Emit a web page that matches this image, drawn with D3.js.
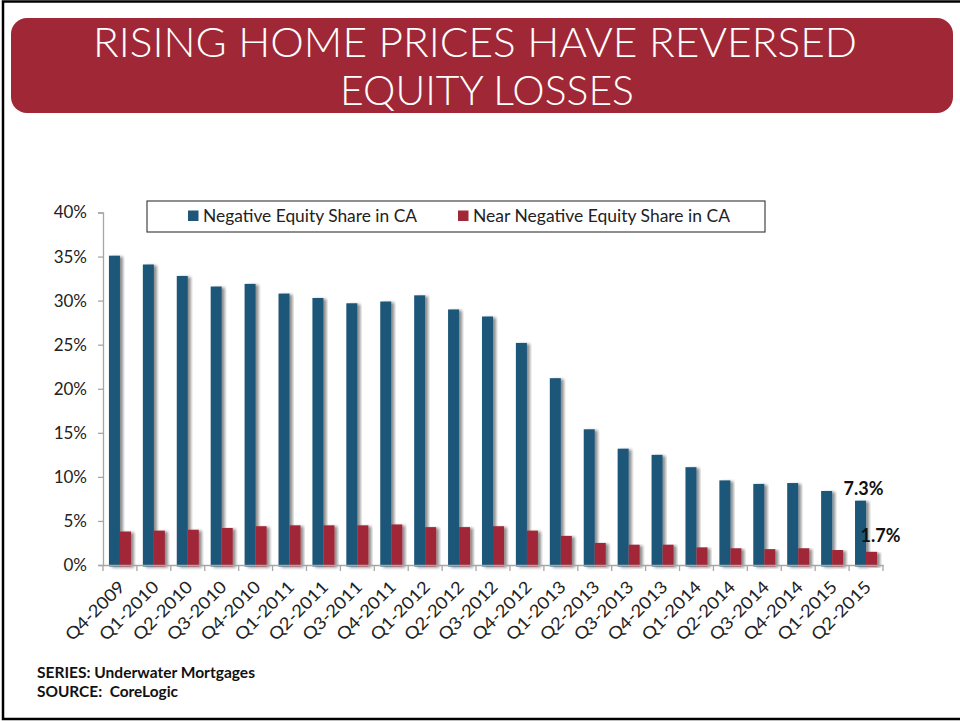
<!DOCTYPE html>
<html>
<head>
<meta charset="utf-8">
<script src="https://cdn.jsdelivr.net/npm/d3@7"></script>
<style>
  html, body { margin: 0; padding: 0; background: #fff; }
  svg { display: block; }
  text { white-space: pre; }
</style>
</head>
<body>
<svg id="chart" width="960" height="721"></svg>
<script>
// ---- Data ----
const categories = ["Q4-2009","Q1-2010","Q2-2010","Q3-2010","Q4-2010","Q1-2011","Q2-2011","Q3-2011","Q4-2011","Q1-2012","Q2-2012","Q3-2012","Q4-2012","Q1-2013","Q2-2013","Q3-2013","Q4-2013","Q1-2014","Q2-2014","Q3-2014","Q4-2014","Q1-2015","Q2-2015"];
const negativeEquity = [35.1,34.1,32.8,31.6,31.9,30.8,30.3,29.7,29.9,30.6,29.0,28.2,25.2,21.2,15.4,13.2,12.5,11.1,9.6,9.2,9.3,8.4,7.3];
const nearNegativeEquity = [3.8,3.9,4.0,4.2,4.4,4.5,4.5,4.5,4.6,4.3,4.3,4.4,3.9,3.3,2.5,2.3,2.3,2.0,1.9,1.8,1.9,1.7,1.5];
const seriesNames = ["Negative Equity Share in CA","Near Negative Equity Share in CA"];
const yTicks = [0,5,10,15,20,25,30,35,40];
const endLabels = ["7.3%","1.7%"];
const titleLines = ["RISING HOME PRICES HAVE REVERSED","EQUITY LOSSES"];
const footerLines = ["SERIES: Underwater Mortgages","SOURCE:  CoreLogic"];

const colors = ["#1f5679","#a02837"];
const font = "Lato, 'Open Sans', sans-serif";

const svg = d3.select("#chart");

// shadow filter
const defs = svg.append("defs");
const f = defs.append("filter").attr("id","shadow").attr("x","-20%").attr("y","-5%").attr("width","160%").attr("height","115%");
f.append("feGaussianBlur").attr("in","SourceAlpha").attr("stdDeviation",1.5).attr("result","b");
f.append("feOffset").attr("in","b").attr("dx",3).attr("dy",1).attr("result","o");
f.append("feComponentTransfer").attr("in","o").attr("result","o2")
  .append("feFuncA").attr("type","linear").attr("slope",0.45);
const m = f.append("feMerge");
m.append("feMergeNode").attr("in","o2");
m.append("feMergeNode").attr("in","SourceGraphic");

// slide frame
svg.append("rect").attr("x",3).attr("y",1.5).attr("width",990).attr("height",717.5)
  .attr("fill","none").attr("stroke","#000").attr("stroke-width",2.5);

// title banner
svg.append("rect").attr("x",11).attr("y",18).attr("width",942).attr("height",95)
  .attr("rx",16).attr("ry",16).attr("fill","#a02836");
svg.append("text").attr("x",475).attr("y",57).attr("text-anchor","middle")
  .attr("fill","#fff").attr("font-family",font).attr("font-weight",300).attr("font-size",41)
  .attr("textLength",764).attr("lengthAdjust","spacingAndGlyphs").text(titleLines[0]);
svg.append("text").attr("x",487).attr("y",105).attr("text-anchor","middle")
  .attr("fill","#fff").attr("font-family",font).attr("font-weight",300).attr("font-size",41)
  .attr("textLength",294).attr("lengthAdjust","spacingAndGlyphs").text(titleLines[1]);

// scales
const x0 = d3.scaleBand().domain(categories).range([103,883]).paddingInner(0).paddingOuter(0);
const groupPad = 0.175;
const x1 = d3.scaleBand().domain([0,1]).range([x0.bandwidth()*groupPad, x0.bandwidth()*(1-groupPad)]);
const y = d3.scaleLinear().domain([0,40]).range([565,212.5]);

// y axis
const yAxis = svg.append("g").attr("transform","translate(103,0)")
  .call(d3.axisLeft(y).tickValues(yTicks).tickSize(5).tickPadding(11).tickFormat(d => d + "%"));
yAxis.select(".domain").attr("stroke","#a6a6a6").attr("stroke-width",1.3);
yAxis.selectAll(".tick line").attr("stroke","#a6a6a6").attr("stroke-width",1.3);
yAxis.selectAll(".tick text").attr("font-family",font).attr("font-size",17).attr("fill","#222");

// bars
const data = categories.map((c,i) => ({c, v:[negativeEquity[i], nearNegativeEquity[i]]}));
const groups = svg.append("g").selectAll("g").data(data).join("g")
  .attr("transform", d => `translate(${x0(d.c)},0)`);
groups.selectAll("rect").data(d => d.v.map((v,k) => ({v,k}))).join("rect")
  .attr("x", d => x1(d.k))
  .attr("y", d => y(d.v))
  .attr("width", x1.bandwidth())
  .attr("height", d => y(0) - y(d.v) + 1.5)
  .attr("fill", d => colors[d.k])
  .attr("filter","url(#shadow)");

// x axis
const xAxis = svg.append("g").attr("transform","translate(0,565)")
  .call(d3.axisBottom(x0).tickSize(0).tickPadding(0));
xAxis.select(".domain").attr("stroke","#a6a6a6").attr("stroke-width",1.3);
// boundary ticks
const bounds = categories.map(c => x0(c)).concat([x0.range()[1]]);
svg.append("g").selectAll("line").data(bounds).join("line")
  .attr("x1", d => d).attr("x2", d => d).attr("y1",565).attr("y2",571)
  .attr("stroke","#a6a6a6").attr("stroke-width",1.3);
xAxis.selectAll(".tick text")
  .attr("font-family",font).attr("font-size",17).attr("fill","#222")
  .attr("text-anchor","end").attr("dy",0)
  .attr("textLength",76).attr("lengthAdjust","spacingAndGlyphs")
  .attr("transform","translate(6,23) rotate(-45)");

// end labels
const last = categories.length - 1;
svg.append("text").attr("x", x0(categories[last]) + x1(0) + x1.bandwidth()/2 + 3)
  .attr("y", y(negativeEquity[last]) - 6).attr("text-anchor","middle")
  .attr("font-family",font).attr("font-weight",700).attr("font-size",18).attr("fill","#111")
  .text(endLabels[0]);
svg.append("text").attr("x", x0(categories[last]) + x1(1) + x1.bandwidth()/2 + 9)
  .attr("y", y(nearNegativeEquity[last]) - 10).attr("text-anchor","middle")
  .attr("font-family",font).attr("font-weight",700).attr("font-size",18).attr("fill","#111")
  .text(endLabels[1]);

// legend
const lg = svg.append("g");
lg.append("rect").attr("x",147).attr("y",201).attr("width",618).attr("height",31)
  .attr("fill","#fff").attr("stroke","#444").attr("stroke-width",1.2);
const legendItems = [{x:188, tx:203, len:214},{x:458, tx:473, len:257}];
seriesNames.forEach((s,i) => {
  lg.append("rect").attr("x",legendItems[i].x).attr("y",210.5).attr("width",10.5).attr("height",10.5)
    .attr("fill",colors[i]);
  lg.append("text").attr("x",legendItems[i].tx).attr("y",222).attr("font-family",font)
    .attr("font-size",17).attr("fill","#222")
    .attr("textLength",legendItems[i].len).attr("lengthAdjust","spacingAndGlyphs").text(s);
});

// footer
const footerLen = [218, 141];
footerLines.forEach((t,i) => {
  svg.append("text").attr("x",37).attr("y",678 + i*19).attr("font-family",font)
    .attr("font-weight",700).attr("font-size",14.5).attr("fill","#111")
    .attr("textLength",footerLen[i]).attr("lengthAdjust","spacingAndGlyphs").text(t);
});
</script>
</body>
</html>
